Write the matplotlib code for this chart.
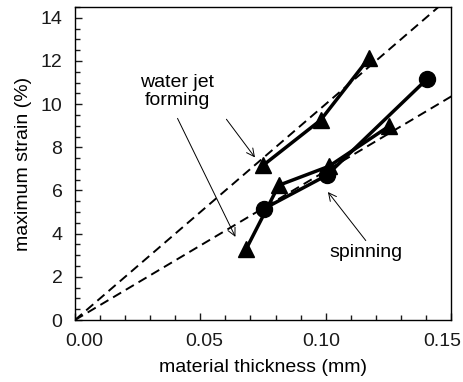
import matplotlib
matplotlib.use('Agg')
import matplotlib.pyplot as plt
from matplotlib.ticker import MultipleLocator
from matplotlib.transforms import ScaledTranslation

plt.rcParams['font.family'] = ['Liberation Sans', 'DejaVu Sans']

# upper triangle series (water jet forming)
wj_x = [0.0751, 0.0980, 0.1173]
wj_y = [7.17, 9.26, 12.14]

# lower triangle series
tri_x = [0.0683, 0.0813, 0.1013, 0.1253]
tri_y = [3.29, 6.24, 7.12, 8.98]

# spinning (circles)
spin_x = [0.0753, 0.1004, 0.1404]
spin_y = [5.15, 6.70, 11.16]

# dashed reference lines through the origin
slopes = [100, 69]
line_x = [0.0, 0.16]

xticks = [0.00, 0.05, 0.10, 0.15]
xtick_labels = ['0.00', '0.05', '0.10', '0.15']
yticks = [0, 2, 4, 6, 8, 10, 12, 14]

fig = plt.figure(figsize=(4.64, 3.82), dpi=100)
ax = fig.add_axes([0.1616, 0.1623, 0.972 - 0.1616, 0.9817 - 0.1623])

for s in slopes:
    ax.plot(line_x, [s * v for v in line_x], color='k', lw=1.4,
            dashes=(4.8, 2.8), zorder=2)

ax.plot(wj_x, wj_y, color='k', lw=2.5, marker='^', ms=11.5, zorder=3)
ax.plot(tri_x, tri_y, color='k', lw=2.5, marker='^', ms=11.5, zorder=3)
ax.plot(spin_x, spin_y, color='k', lw=2.5, marker='o', ms=11.5, zorder=3)

ax.set_xlim(0, 0.15)
ax.set_ylim(0, 14.5)
ax.set_xticks(xticks)
ax.set_xticklabels(xtick_labels)
ax.set_yticks(yticks)
ax.xaxis.set_minor_locator(MultipleLocator(0.01))
ax.yaxis.set_minor_locator(MultipleLocator(0.5))
ax.tick_params(which='both', direction='in', top=False, right=False,
               labelsize=14, pad=9, width=1.0, colors='#1a1a1a')
ax.tick_params(which='major', length=5)
ax.tick_params(which='minor', length=3.5)
for sp in ax.spines.values():
    sp.set_linewidth(1.0)

# nudge x tick labels like in the original
for lab, dx in zip(ax.get_xticklabels(), [9, 4, -4, -9]):
    lab.set_transform(lab.get_transform() + ScaledTranslation(dx / 100, 0, fig.dpi_scale_trans))

ax.set_xlabel('material thickness (mm)', fontsize=14, labelpad=7)
ax.set_ylabel('maximum strain (%)', fontsize=14, labelpad=6)

arrow = dict(arrowstyle='->', lw=0.7, color='k', shrinkA=0, shrinkB=0,
             mutation_scale=14)
ax.text(0.0407, 10.6, 'water jet\nforming', fontsize=14, ha='center',
        va='center', linespacing=1.1)
ax.annotate('', xy=(0.064, 3.85), xytext=(0.0409, 9.34), arrowprops=arrow)
ax.annotate('', xy=(0.0718, 7.53), xytext=(0.0604, 9.30), arrowprops=arrow)

ax.text(0.116, 3.13, 'spinning', fontsize=14, ha='center', va='center')
ax.annotate('', xy=(0.1009, 5.93), xytext=(0.1160, 3.68), arrowprops=arrow)

fig.savefig('out.png', dpi=100)
